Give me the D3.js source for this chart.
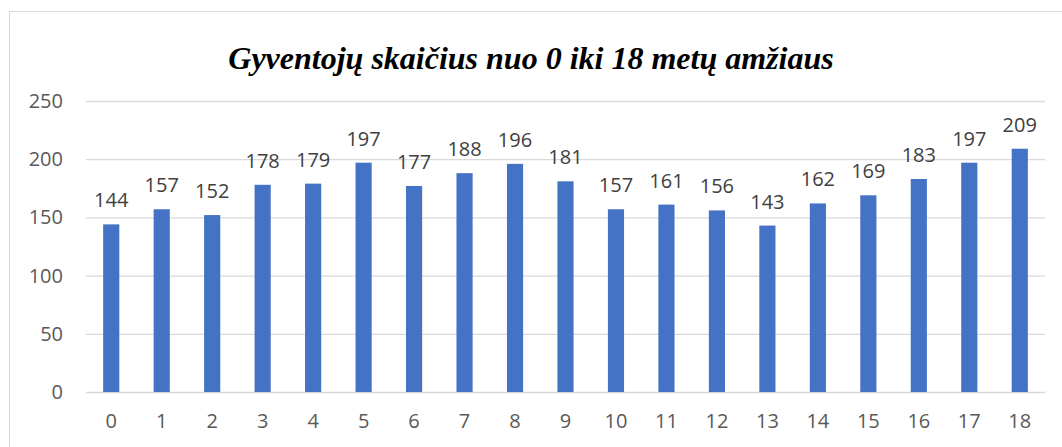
<!DOCTYPE html>
<html>
<head>
<meta charset="utf-8">
<script src="https://cdn.jsdelivr.net/npm/d3@7"></script>
<style>
body { margin: 0; background: #fff; }
</style>
</head>
<body>
<div id="chart"></div>
<script>
const width = 1062
const height = 447
const margin = { top: 101, bottom: 55, left: 86, right: 17 }

const title = "Gyventojų skaičius nuo 0 iki 18 metų amžiaus"
const ages = ["0", "1", "2", "3", "4", "5", "6", "7", "8", "9", "10", "11", "12", "13", "14", "15", "16", "17", "18"]
const population = [144, 157, 152, 178, 179, 197, 177, 188, 196, 181, 157, 161, 156, 143, 162, 169, 183, 197, 209]
const yTicks = [0, 50, 100, 150, 200, 250]

const svg = d3.select("div#chart").append("svg").attr("width", width).attr("height", height)

// chart border
svg.append("rect")
    .attr("x", 9.5).attr("y", 11.5)
    .attr("width", 1060).attr("height", 450)
    .attr("fill", "none").attr("stroke", "#d9d9d9").attr("stroke-width", 1)

svg.append("text")
    .attr("x", 531).attr("y", 69)
    .attr("text-anchor", "middle")
    .attr("font-family", "'Liberation Serif', 'Times New Roman', serif")
    .attr("font-style", "italic").attr("font-weight", "bold")
    .attr("font-size", 32)
    .attr("fill", "#000")
    .text(title)

const innerW = width - margin.left - margin.right
const innerH = height - margin.top - margin.bottom

const x = d3.scaleBand().domain(ages).range([0, innerW]).paddingInner(0.68).paddingOuter(0.34)
const y = d3.scaleLinear().domain([0, 250]).range([innerH, 0])

const g = svg.append("g").attr("transform", `translate(${margin.left}, ${margin.top})`)

const yAxis = d3.axisLeft(y).tickValues(yTicks).tickSize(-innerW).tickPadding(23)
g.append("g").attr("class", "yAxis").call(yAxis)
    .call(a => a.select(".domain").remove())
    .call(a => a.selectAll(".tick line").attr("stroke", "#d9d9d9").attr("stroke-width", 1.3))
    .call(a => a.selectAll(".tick text").attr("fill", "#595959")
        .attr("font-family", "'Open Sans', sans-serif").attr("font-size", 20))

const xAxis = d3.axisBottom(x).tickSize(0).tickPadding(22)
g.append("g").attr("class", "xAxis").attr("transform", `translate(0, ${innerH})`).call(xAxis)
    .call(a => a.select(".domain").remove())
    .call(a => a.selectAll(".tick text").attr("fill", "#595959")
        .attr("font-family", "'Open Sans', sans-serif").attr("font-size", 20))

const data = ages.map((a, i) => ({ age: a, value: population[i] }))

g.selectAll("rect.bar").data(data).enter()
    .append("rect")
    .attr("class", "bar")
    .attr("x", d => x(d.age))
    .attr("y", d => y(d.value))
    .attr("width", x.bandwidth())
    .attr("height", d => innerH - y(d.value))
    .attr("fill", "#4472c4")

g.selectAll("text.label").data(data).enter()
    .append("text")
    .attr("class", "label")
    .attr("x", d => x(d.age) + x.bandwidth() / 2)
    .attr("y", d => y(d.value) - 17)
    .attr("text-anchor", "middle")
    .attr("font-family", "'Open Sans', sans-serif").attr("font-size", 20)
    .attr("fill", "#404040")
    .text(d => d.value)
</script>
</body>
</html>
